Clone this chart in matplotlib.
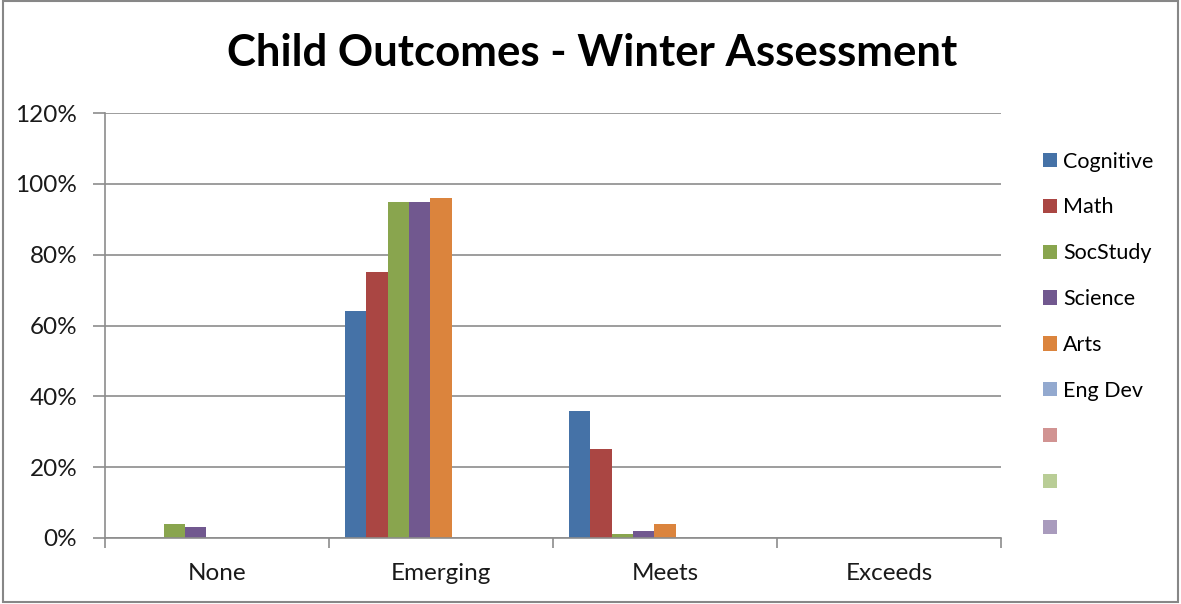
import numpy as np
import matplotlib.pyplot as plt
from matplotlib.patches import Rectangle
from matplotlib.ticker import PercentFormatter

plt.rcParams['font.family'] = ['Lato', 'DejaVu Sans']

# Assessment data (share of children per outcome level)
levels = ['None', 'Emerging', 'Meets', 'Exceeds']
series_names = ['Cognitive', 'Math', 'SocStudy', 'Science', 'Arts', 'Eng Dev', ' ', ' ', ' ']
cognitive = [0, 64, 36, 0]
math = [0, 75, 25, 0]
soc_study = [4, 95, 1, 0]
science = [3, 95, 2, 0]
arts = [0, 96, 4, 0]
eng_dev = [0, 0, 0, 0]
extra_1 = [0, 0, 0, 0]
extra_2 = [0, 0, 0, 0]
extra_3 = [0, 0, 0, 0]
colors = ['#4572A7', '#AA4643', '#89A54E', '#71588F', '#DB843D',
          '#93A9CF', '#D19392', '#B9CD96', '#A99BBD']

all_series = [cognitive, math, soc_study, science, arts, eng_dev, extra_1, extra_2, extra_3]

fig = plt.figure(figsize=(11.81, 6.04), dpi=100)
W, H = 1181, 604
ax = fig.add_axes([105 / W, (H - 538) / H, (1001 - 105) / W, (538 - 113) / H])

x = np.arange(len(levels))
n = len(all_series)
width = 0.857 / n
handles = []
for i, (vals, c) in enumerate(zip(all_series, colors)):
    offs = (i - (n - 1) / 2) * width
    b = ax.bar(x + offs, vals, width, color=c, linewidth=0, zorder=3)
    handles.append(b)

ax.set_xlim(-0.5, len(levels) - 0.5)
ax.set_ylim(0, 120)
ax.set_yticks(np.arange(0, 121, 20))
ax.yaxis.set_major_formatter(PercentFormatter(decimals=0))
ax.yaxis.grid(True, color='#8C8C8C', linewidth=1.2, zorder=0)

ax.set_xticks(np.arange(-0.5, len(levels), 1.0))
ax.set_xticklabels([])
ax.set_xticks(x, minor=True)
ax.set_xticklabels(levels, minor=True)
ax.tick_params(axis='x', which='major', length=7, width=1.2, color='#8C8C8C', direction='out')
ax.tick_params(axis='x', which='minor', length=0, pad=18, labelsize=17.5, labelcolor='#1a1a1a')
ax.tick_params(axis='y', length=9, width=1.2, color='#8C8C8C', labelsize=17.5,
               labelcolor='#1a1a1a', pad=11)

for s in ['top', 'right']:
    ax.spines[s].set_visible(False)
for s in ['left', 'bottom']:
    ax.spines[s].set_color('#8C8C8C')
    ax.spines[s].set_linewidth(1.2)
    ax.spines[s].set_zorder(4)

fig.text(592 / W, 1 - 53 / H, 'Child Outcomes - Winter Assessment', ha='center', va='center',
         fontsize=31.5, fontweight='bold', color='black')

leg = fig.legend(handles, series_names, loc='upper left', bbox_to_anchor=(1034 / W, 1 - 143 / H),
                 frameon=False, fontsize=15.5, handlelength=0.65, handleheight=0.65,
                 handletextpad=0.3, labelspacing=1.2, borderaxespad=0)

# outer chart border
fig.patches.append(Rectangle((3 / W, 1 - 602 / H), 1175 / W, 601 / H, transform=fig.transFigure,
                             fill=False, edgecolor='#878787', linewidth=1.5))

fig.savefig('out.png', dpi=100)
